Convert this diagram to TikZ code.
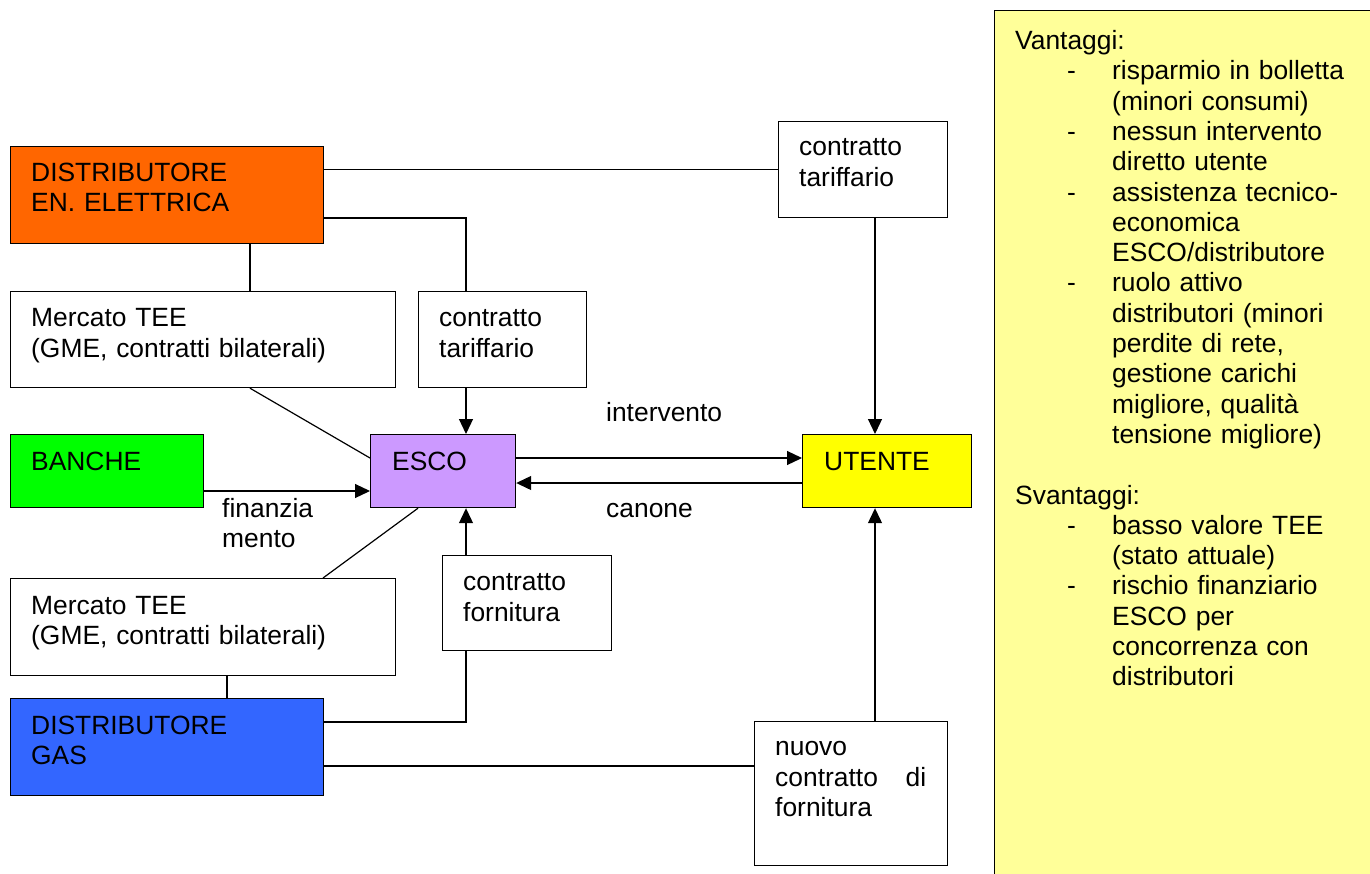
\documentclass[tikz,border=0pt]{standalone}
\usepackage{fontspec}
\setmainfont{Liberation Sans}
\usetikzlibrary{arrows.meta,calc}
\definecolor{orangeEl}{HTML}{FF6600}
\definecolor{greenBk}{HTML}{00FF00}
\definecolor{lilacEs}{HTML}{CC99FF}
\definecolor{yellowUt}{HTML}{FFFF00}
\definecolor{blueGas}{HTML}{3366FF}
\definecolor{noteYel}{HTML}{FFFF99}
\newcommand\myDash{\hspace*{52pt}\makebox[45pt][l]{-}}
\newcommand\myInd{\hspace*{97pt}}
\begin{document}
\begin{tikzpicture}[x=1pt,y=-1pt,
  box/.style={draw=black,line width=1.2pt,inner sep=0pt,anchor=north west},
  lbl/.style={anchor=base west,inner sep=0pt,align=left,text width=#1,
              font=\fontsize{26.4}{30.5}\selectfont},
  lbl/.default=360pt,
  conn/.style={line width=1.2pt},
  arr/.style={conn,-{Triangle[length=15pt,width=14pt]}}]
\useasboundingbox (0,0) rectangle (1370,873);
\clip (0,0) rectangle (1370,873);

% note box
\node[box,fill=noteYel,minimum width=400pt,minimum height=900pt] (note) at (994,10) {};
\node[lbl=350pt,font=\fontsize{26.4}{30.3}\selectfont] (noteT) at (1015,49.5) {Vantaggi:\\
\myDash risparmio in bolletta\\
\myInd (minori consumi)\\
\myDash nessun intervento\\
\myInd diretto utente\\
\myDash assistenza tecnico-\\
\myInd economica\\
\myInd ESCO/distributore\\
\myDash ruolo attivo\\
\myInd distributori (minori\\
\myInd perdite di rete,\\
\myInd gestione carichi\\
\myInd migliore, qualità\\
\myInd tensione migliore)\\[30.3pt]
Svantaggi:\\
\myDash basso valore TEE\\
\myInd (stato attuale)\\
\myDash rischio finanziario\\
\myInd ESCO per\\
\myInd concorrenza con\\
\myInd distributori};

% boxes
\node[box,fill=orangeEl,minimum width=313pt,minimum height=97pt] (dee) at (10,146) {};
\node[box,fill=white,minimum width=385pt,minimum height=96pt] (mt1) at (10,291) {};
\node[box,fill=white,minimum width=168pt,minimum height=96pt] (ct2) at (418,291) {};
\node[box,fill=white,minimum width=169pt,minimum height=96pt] (ct1) at (778,121) {};
\node[box,fill=greenBk,minimum width=193pt,minimum height=73pt] (banche) at (10,434) {};
\node[box,fill=lilacEs,minimum width=145pt,minimum height=73pt] (esco) at (370,434) {};
\node[box,fill=yellowUt,minimum width=169pt,minimum height=73pt] (utente) at (802,434) {};
\node[box,fill=white,minimum width=385pt,minimum height=97pt] (mt2) at (10,578) {};
\node[box,fill=white,minimum width=169pt,minimum height=95pt] (cf) at (442,555) {};
\node[box,fill=blueGas,minimum width=313pt,minimum height=97pt] (dgas) at (10,698) {};
\node[box,fill=white,minimum width=193pt,minimum height=144pt] (nc) at (754,721) {};

% box texts
\node[lbl] (deeT) at (31,181) {DISTRIBUTORE\\EN. ELETTRICA};
\node[lbl] (mt1T) at (31,326.7) {Mercato TEE\\(GME, contratti bilaterali)};
\node[lbl=150pt] (ct2T) at (439,326.7) {contratto\\tariffario};
\node[lbl=150pt] (ct1T) at (799,155.7) {contratto\\tariffario};
\node[lbl=170pt] (bancheT) at (31,470.7) {BANCHE};
\node[lbl=120pt] (escoT) at (392,470.7) {ESCO};
\node[lbl=140pt] (utenteT) at (824,470.7) {UTENTE};
\node[lbl] (mt2T) at (31,614) {Mercato TEE\\(GME, contratti bilaterali)};
\node[lbl=150pt] (cfT) at (463,590.7) {contratto\\fornitura};
\node[lbl] (dgasT) at (31,734) {DISTRIBUTORE\\GAS};
\node[lbl=151pt] (ncT) at (775,755.7) {nuovo\\contratto\hfill di\\fornitura};

% connector labels
\node[lbl=150pt] (finT) at (222,517.3) {finanzia\\mento};
\node[lbl=150pt] (intT) at (606,421) {intervento};
\node[lbl=150pt] (canT) at (606,517.3) {canone};

% connectors
\draw[conn] (dee.east |- ct1.west) -- (ct1.west);
\draw[conn] ($(dee.south west)+(240,0)$) -- ($(mt1.north west)+(240,0)$);
\draw[conn] ($(dee.north east)+(0,72)$) -| ($(ct2.north west)+(48,0)$);
\coordinate (c2b) at ($(ct2.south west)+(48,0)$);
\draw[arr] (c2b) -- (c2b |- esco.north);
\coordinate (c1b) at ($(ct1.south west)+(97,0)$);
\draw[arr] (c1b) -- (c1b |- utente.north);
\draw[conn] ($(mt1.south west)+(240,0)$) -- ($(esco.north west)+(0,24)$);
\coordinate (bo) at ($(banche.north east)+(0,57)$);
\draw[arr] (bo) -- (bo -| esco.west);
\coordinate (ei) at ($(esco.north east)+(0,24)$);
\draw[arr] (ei) -- (ei -| utente.west);
\coordinate (uc) at ($(utente.north west)+(0,49)$);
\draw[arr] (uc) -- (uc -| esco.east);
\draw[conn] ($(esco.south west)+(48,0)$) -- ($(mt2.north west)+(313,0)$);
\draw[conn] ($(mt2.south west)+(217,0)$) -- ($(dgas.north west)+(217,0)$);
\draw[conn] ($(dgas.north east)+(0,24)$) -| ($(cf.south west)+(24,0)$);
\coordinate (cft) at ($(cf.north west)+(24,0)$);
\draw[arr] (cft) -- (cft |- esco.south);
\coordinate (gn) at ($(dgas.north east)+(0,68)$);
\draw[conn] (gn) -- (gn -| nc.west);
\coordinate (nct) at ($(nc.north west)+(121,0)$);
\draw[arr] (nct) -- (nct |- utente.south);
\end{tikzpicture}
\end{document}
